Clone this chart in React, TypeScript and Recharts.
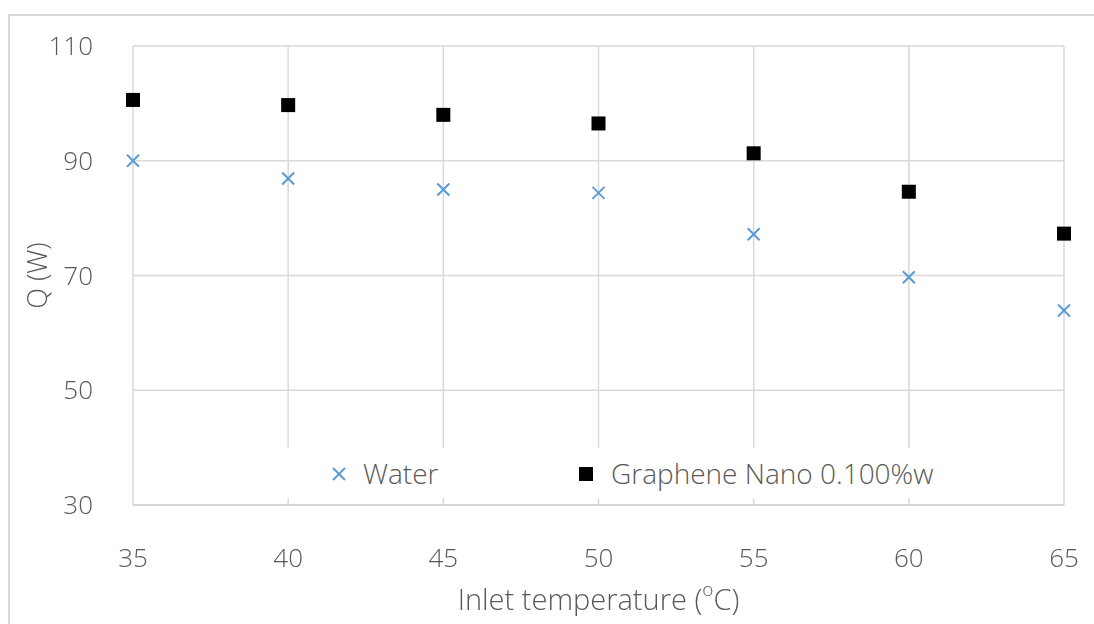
import React from 'react';
import { ScatterChart, Scatter, XAxis, YAxis, CartesianGrid, Legend } from 'recharts';

const temperatures = [35, 40, 45, 50, 55, 60, 65];
const waterQ = [90.0, 86.9, 85.0, 84.4, 77.2, 69.7, 63.9];
const grapheneQ = [100.6, 99.7, 98.0, 96.5, 91.3, 84.6, 77.3];
const xTicks = [35, 40, 45, 50, 55, 60, 65];
const yTicks = [30, 50, 70, 90, 110];

const waterData = temperatures.map((t, i) => ({ x: t, y: waterQ[i] }));
const grapheneData = temperatures.map((t, i) => ({ x: t, y: grapheneQ[i] }));

const FONT = '"Open Sans", sans-serif';
const TEXT = '#595959';
const BLUE = '#5b9bd5';

const Cross = ({ cx, cy }: any) => (
  <g stroke={BLUE} strokeWidth={2}>
    <line x1={cx - 6} y1={cy - 6} x2={cx + 6} y2={cy + 6} />
    <line x1={cx - 6} y1={cy + 6} x2={cx + 6} y2={cy - 6} />
  </g>
);

const Square = ({ cx, cy }: any) => <rect x={cx - 7} y={cy - 7} width={14} height={14} fill="#000" />;

const renderLegend = () => (
  <svg width={915} height={50} style={{ display: 'block' }}>
    <rect x={0} y={0} width={915} height={50} fill="#fff" />
    <Cross cx={199} cy={26} />
    <text x={223} y={25} dominantBaseline="central" fontSize={28} fontWeight={300} fill={TEXT} fontFamily={FONT}>
      Water
    </text>
    <Square cx={446} cy={26} />
    <text x={471} y={25} dominantBaseline="central" fontSize={28} fontWeight={300} fill={TEXT} fontFamily={FONT}>
      Graphene Nano 0.100%w
    </text>
  </svg>
);

const renderYLabel = ({ viewBox }: any) => {
  const cy = viewBox.y + viewBox.height / 2;
  return (
    <text
      x={28}
      y={cy}
      transform={`rotate(-90, 28, ${cy})`}
      textAnchor="middle"
      dominantBaseline="central"
      fontSize={27}
      fontWeight={300}
      fill={TEXT}
      fontFamily={FONT}
    >
      Q (W)
    </text>
  );
};

const renderXLabel = ({ viewBox }: any) => {
  const cx = viewBox.x + viewBox.width / 2;
  return (
    <text x={cx} y={590} textAnchor="middle" dominantBaseline="central" fontSize={29} fontWeight={300} fill={TEXT} fontFamily={FONT}>
      Inlet temperature (
      <tspan fontSize={19} dy={-9}>o</tspan>
      <tspan dy={9}>C)</tspan>
    </text>
  );
};

const tickStyle = { fontSize: 26, fill: TEXT, fontFamily: FONT, fontWeight: 300 };

export default function App() {
  return (
    <div style={{ position: 'relative', width: 1078, height: 608, overflow: 'hidden' }}>
      <div
        style={{
          position: 'fixed',
          left: 8,
          top: 14,
          width: 1200,
          height: 700,
          border: '2px solid #d9d9d9',
          boxSizing: 'border-box',
          pointerEvents: 'none',
        }}
      />
      <div style={{ position: 'absolute', left: 0, top: 0 }}>
        <ScatterChart width={1078} height={616} margin={{ top: 38, right: 22, bottom: 0, left: 0 }}>
          <CartesianGrid stroke="#d9d9d9" strokeWidth={1.5} />
          <XAxis
            type="number"
            dataKey="x"
            domain={[35, 65]}
            ticks={xTicks}
            height={119}
            tickLine={false}
            tickSize={0}
            tickMargin={44}
            axisLine={{ stroke: '#d0d0d0', strokeWidth: 1.5 }}
            tick={tickStyle}
            label={renderXLabel}
          />
          <YAxis
            type="number"
            dataKey="y"
            domain={[30, 110]}
            ticks={yTicks}
            width={125}
            tickLine={false}
            tickSize={0}
            tickMargin={40}
            axisLine={false}
            tick={tickStyle}
            label={renderYLabel}
          />
          <Legend
            layout="horizontal"
            verticalAlign="middle"
            align="center"
            width={915}
            height={50}
            wrapperStyle={{ left: 132, top: 440, width: 915, height: 50 }}
            content={renderLegend}
          />
          <Scatter name="Water" data={waterData} fill={BLUE} shape={Cross} isAnimationActive={false} />
          <Scatter name="Graphene Nano 0.100%w" data={grapheneData} fill="#000" shape={Square} isAnimationActive={false} />
        </ScatterChart>
      </div>
    </div>
  );
}
